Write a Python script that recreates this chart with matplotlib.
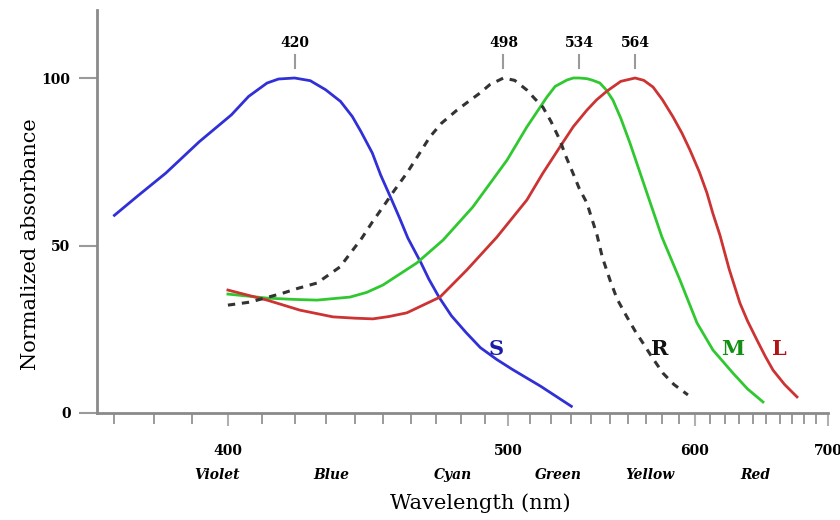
import matplotlib
matplotlib.use("Agg")
import matplotlib.pyplot as plt
import numpy as np

# ---- data ----
s_wl = [370, 376, 383, 392, 401, 406, 411.5, 415, 420, 425, 430, 435, 439, 442, 446, 449, 453,
        456, 459, 464, 467, 471, 476, 482, 488, 495, 502, 515, 530]
s_val = [59, 65, 71.6, 81, 89, 94.5, 98.5, 99.7, 100, 99.2, 96.5, 93, 88.5, 84, 77.6, 71, 63.6,
         58, 52.2, 44.8, 40, 34.6, 29, 24, 19.5, 16, 13, 8, 2]

r_wl = [400, 406.4, 416.4, 421, 427.2, 434.8, 442.3, 446, 449.8, 454, 458.6, 463, 467.4, 472,
        478.2, 483, 487.8, 492, 498, 503, 508.6, 512, 516.1, 520, 524.3, 527, 530.8, 534,
        537.9, 543.2, 546, 550.1, 554, 559.4, 564, 568.5, 574, 580.3, 587, 595.7]
r_val = [32.2, 33.1, 35.8, 37.2, 38.8, 43.6, 52.2, 57, 61.5, 66.5, 71.6, 77, 82.4, 86.5,
         90.4, 93, 95.5, 98, 100, 99.3, 96.4, 94, 91.3, 87, 81.5, 77, 71.6, 67,
         62.7, 53.1, 46.5, 39.7, 34, 28.7, 24.5, 20.9, 16.5, 11.9, 8.5, 5.4]

m_wl = [400, 411.5, 420, 427.2, 438.2, 444, 449.8, 462.4, 472.6, 484.8, 499.6, 508.6, 518, 522,
        527.8, 531, 534, 538, 541, 544.7, 548, 551.7, 556, 561.1, 570.8, 579.7, 590.7, 601.5,
        612, 625.7, 636, 647.4]
m_val = [35.5, 34.3, 33.9, 33.7, 34.6, 36, 38.2, 44.8, 51.6, 61.5, 75.5, 85.4, 94.3, 97.5,
         99.4, 100, 100, 99.8, 99.3, 98.5, 96.5, 93.4, 88, 80.6, 65.7, 52.5, 39.7, 26.9,
         18.8, 11.9, 7.2, 3.3]

l_wl = [400, 411.5, 421.7, 432.4, 440, 446.2, 452, 458.6, 471.4, 482.3, 495.1, 508.6, 516,
        524.3, 531, 537.9, 543, 548.5, 556, 564, 569, 574.4, 580, 586.4, 592, 597, 603, 608,
        612, 616.7, 623, 630.6, 636, 642.9, 649, 655, 664, 673.9]
l_val = [36.7, 33.7, 30.7, 28.7, 28.3, 28.1, 28.8, 29.9, 34.6, 42.7, 52.5, 63.6, 71.5,
         79.4, 85.5, 90.4, 93.5, 96.1, 99, 100, 99.3, 97.3, 93.5, 88.4, 83.5, 78.5, 72, 65.7,
         59.5, 53.1, 43, 32.8, 27.5, 21.8, 17, 12.8, 8.5, 4.8]

peaks = [420, 498, 534, 564]
major_ticks = [400, 500, 600, 700]
minor_ticks = list(range(370, 701, 10))
y_ticks = [0, 50, 100]
band_names = ["Violet", "Blue", "Cyan", "Green", "Yellow", "Red"]
band_pos = [397, 432, 476.6, 523.4, 572.6, 641.5]

curve_labels = ["S", "R", "M", "L"]
label_pos = [(495, 19.1), (578.5, 19.1), (625.7, 19.1), (659.6, 19.1)]

# ---- figure ----
fig = plt.figure(figsize=(8.4, 5.2), dpi=100)
ax = fig.add_axes([97/840, 1-413/520, (828-97)/840, (413-10)/520])

ax.set_xscale("function", functions=(lambda x: -1.0/np.asarray(x, float),
                                     lambda y: -1.0/np.asarray(y, float)))

blue = "#3030d6"
green = "#30c830"
red = "#cc3333"

ax.plot(s_wl, s_val, color=blue, lw=2.0)
ax.plot(m_wl, m_val, color=green, lw=2.0)
ax.plot(l_wl, l_val, color=red, lw=2.0)
ax.plot(r_wl, r_val, color="#333333", lw=2.2, linestyle=(0, (2.4, 2.2)))

ax.set_xlim(365.8, 700)
ax.set_ylim(0, 120.3)

for sp in ["top", "right"]:
    ax.spines[sp].set_visible(False)
for sp in ["left", "bottom"]:
    ax.spines[sp].set_color("#8a8a8a")
    ax.spines[sp].set_linewidth(2)

serif = ["DejaVu Serif"]

ax.set_xticks(major_ticks)
ax.set_xticklabels([str(t) for t in major_ticks], fontfamily=serif, fontweight="bold", fontsize=10)
ax.set_xticks(minor_ticks, minor=True)
ax.tick_params(axis="x", which="major", direction="out", length=9, width=1.5, color="#b0b0b0", pad=13)
ax.tick_params(axis="x", which="minor", direction="out", length=8, width=1.2, color="#8a8a8a")
ax.set_yticks(y_ticks)
ax.set_yticklabels([str(t) for t in y_ticks], fontfamily=serif, fontweight="bold", fontsize=10)
ax.tick_params(axis="y", direction="out", length=13, width=1.5, color="#9a9a9a", pad=6)

# peak markers
for p in peaks:
    ax.plot([p, p], [103, 107], color="#9a9a9a", lw=1.5, clip_on=False)
    ax.text(p, 108.3, str(p), ha="center", va="bottom", fontsize=10, fontweight="bold",
            fontfamily=serif)

# curve labels
label_colors = ["#1c1caa", "#111111", "#129012", "#b01414"]
for lab, (x, y), c in zip(curve_labels, label_pos, label_colors):
    ax.text(x, y, lab, color=c, fontsize=15, fontweight="bold", fontfamily=serif,
            ha="center", va="center")

# colour band names
for name, x in zip(band_names, band_pos):
    ax.text(x, -0.155, name, transform=ax.get_xaxis_transform(), ha="center", va="center",
            fontsize=10, fontstyle="italic", fontweight="bold", fontfamily=serif)

ax.set_xlabel("Wavelength (nm)", fontsize=15, fontfamily=serif)
ax.xaxis.set_label_coords(0.524, -0.2)
ax.set_ylabel("Normalized absorbance", fontsize=15, fontfamily=serif)
ax.yaxis.set_label_coords(-0.078, 0.42)

fig.savefig("out.png", dpi=100)
